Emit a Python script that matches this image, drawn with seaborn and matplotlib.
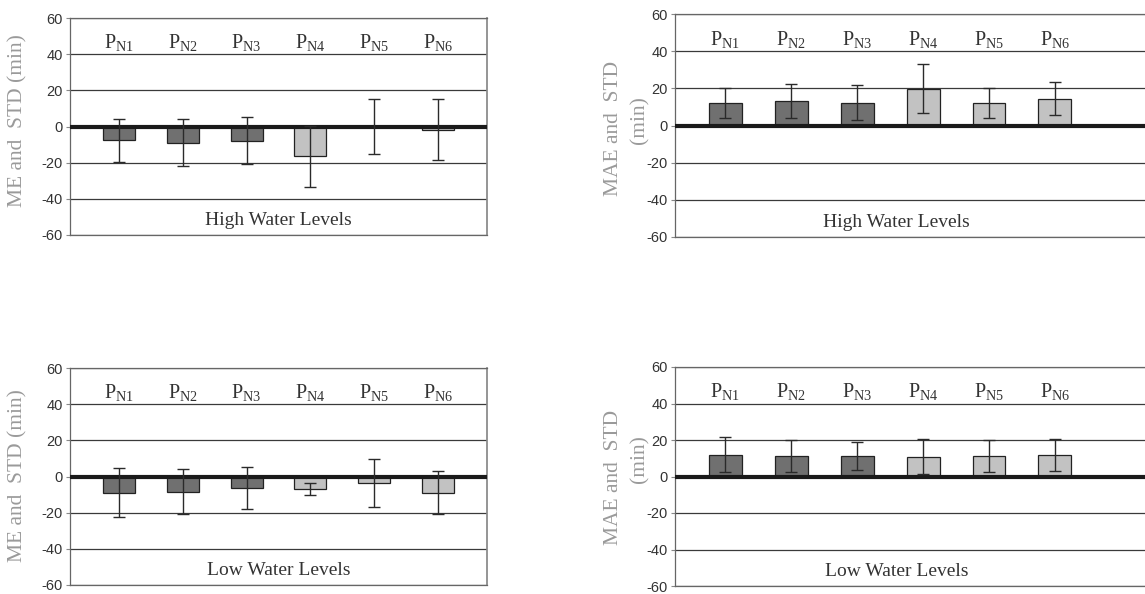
import numpy as np
import pandas as pd
import matplotlib
matplotlib.use("Agg")
import matplotlib.pyplot as plt
import seaborn as sns

categories = ["PN1", "PN2", "PN3", "PN4", "PN5", "PN6"]
cat_labels = [r"P$_{\mathrm{N1}}$", r"P$_{\mathrm{N2}}$", r"P$_{\mathrm{N3}}$",
              r"P$_{\mathrm{N4}}$", r"P$_{\mathrm{N5}}$", r"P$_{\mathrm{N6}}$"]

me_high = [-7.7, -9.0, -7.8, -16.5, 0.0, -1.7]
me_high_std = [12.0, 13.0, 12.8, 16.7, 15.0, 16.8]
mae_high = [12.2, 13.1, 12.3, 19.9, 12.2, 14.4]
mae_high_std = [8.2, 9.0, 9.5, 13.3, 8.0, 8.9]
me_low = [-8.9, -8.3, -6.1, -7.0, -3.5, -8.9]
me_low_std = [13.5, 12.5, 11.6, 3.2, 13.2, 11.8]
mae_low = [12.0, 11.3, 11.3, 10.9, 11.3, 11.9]
mae_low_std = [9.6, 8.9, 7.5, 9.5, 8.7, 8.9]

yticks = [-60, -40, -20, 0, 20, 40, 60]
bar_colors = ["#707070", "#707070", "#707070", "#c2c2c2", "#c2c2c2", "#c2c2c2"]

sns.set_theme(style="white")
plt.rcParams["font.family"] = ["Liberation Sans", "DejaVu Sans"]
plt.rcParams["axes.unicode_minus"] = False
plt.rcParams["mathtext.fontset"] = "custom"
plt.rcParams["mathtext.rm"] = "Liberation Serif"
plt.rcParams["mathtext.it"] = "Liberation Serif:italic"
plt.rcParams["mathtext.bf"] = "Liberation Serif:bold"

fig = plt.figure(figsize=(11.45, 5.94), dpi=100)

W, H = 1145.0, 594.0
def rect(l, r, t, b):
    return [l / W, 1 - b / H, (r - l) / W, (b - t) / H]

panels = [
    (rect(70, 487, 18, 235), me_high, me_high_std, "High Water Levels", (-0.766, 5.766), True, 2.5),
    (rect(675, 1146, 14, 237), mae_high, mae_high_std, "High Water Levels", (-0.76, 6.38), False, 2.6),
    (rect(70, 487, 368, 585), me_low, me_low_std, "Low Water Levels", (-0.766, 5.766), True, 2.5),
    (rect(675, 1146, 367, 586), mae_low, mae_low_std, "Low Water Levels", (-0.76, 6.38), False, 2.6),
]

for pos, vals, stds, title, xlim, right_spine, tx in panels:
    ax = fig.add_axes(pos)
    df = pd.DataFrame({"cat": categories, "val": vals})
    sns.barplot(data=df, x="cat", y="val", hue="cat", palette=bar_colors,
                width=0.5, edgecolor="#222222", linewidth=0.9, legend=False,
                ax=ax, zorder=2)
    ax.axhline(0, color="#1a1a1a", lw=3.0, zorder=3)
    ax.errorbar(np.arange(len(categories)), vals, yerr=stds, fmt="none",
                ecolor="#2a2a2a", elinewidth=1.0, capsize=4.5, capthick=1.0, zorder=4)
    ax.set_ylim(-60, 60)
    ax.set_xlim(*xlim)
    ax.set_yticks(yticks)
    ax.set_yticklabels([str(t) for t in yticks])
    ax.set_xticks([])
    ax.set_xlabel("")
    ax.set_ylabel("")
    ax.set_axisbelow(True)
    ax.yaxis.grid(True, color="#3a3a3a", lw=0.9)
    ax.tick_params(axis="y", left=True, length=3, width=0.8, color="#888888",
                   labelsize=10.5, labelcolor="#333333", pad=2)
    for s in ["left", "top", "bottom"]:
        ax.spines[s].set_color("#666666")
        ax.spines[s].set_linewidth(0.9)
    ax.spines["right"].set_visible(right_spine)
    ax.spines["right"].set_color("#888888")
    for i, lab in enumerate(cat_labels):
        ax.text(i, 46.5, lab, ha="center", va="center", fontsize=14.5,
                color="#333333", family="Liberation Serif")
    ax.text(tx, -52, title, ha="center", va="center", fontsize=14,
            color="#333333", family="Liberation Serif")

ylab_kw = dict(rotation=90, ha="center", va="center", color="#9a9a9a",
               fontsize=15.5, family="Liberation Serif")
fig.text(18 / W, 1 - 121 / H, "ME and  STD (min)", **ylab_kw)
fig.text(18 / W, 1 - 476 / H, "ME and  STD (min)", **ylab_kw)
fig.text(614 / W, 1 - 128 / H, "MAE and  STD", **ylab_kw)
fig.text(640 / W, 1 - 120 / H, "(min)", **ylab_kw)
fig.text(614 / W, 1 - 477 / H, "MAE and  STD", **ylab_kw)
fig.text(640 / W, 1 - 459 / H, "(min)", **ylab_kw)

fig.savefig("out.png", dpi=100)
